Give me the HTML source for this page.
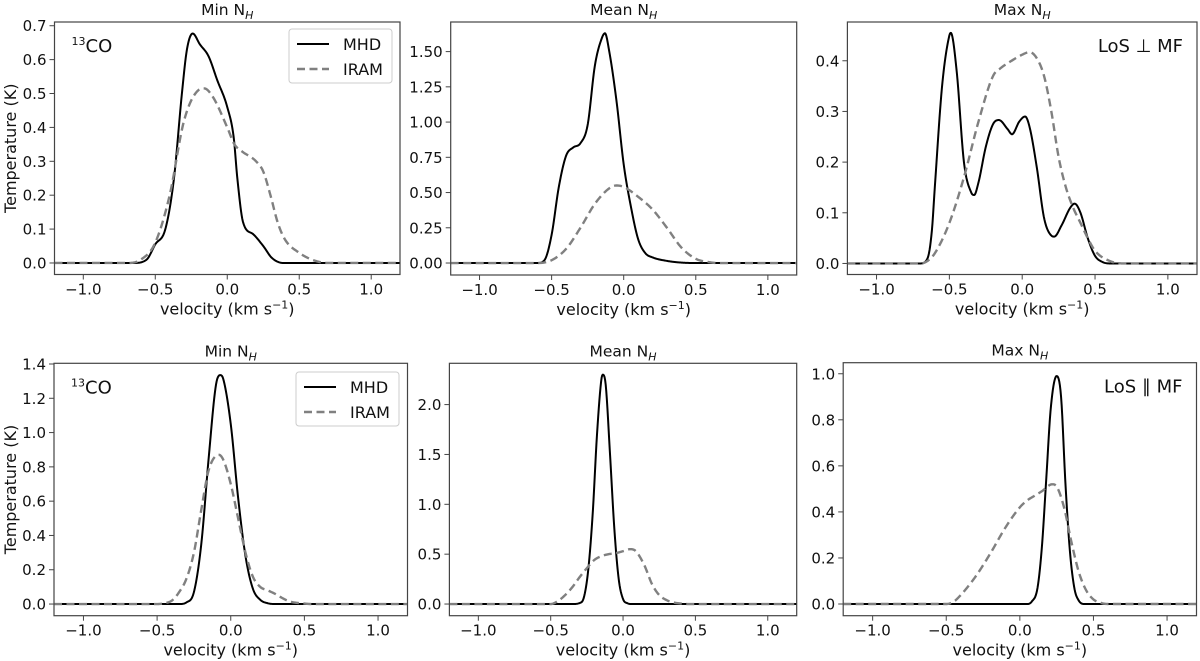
<!DOCTYPE html>
<html><head><meta charset="utf-8">
<style>
html,body{margin:0;padding:0;background:#fff;}
svg{display:block;font-family:"DejaVu Sans","Liberation Sans",sans-serif;}
</style></head>
<body>
<svg id="fig" width="1200" height="661" viewBox="0 0 1200 661" xmlns="http://www.w3.org/2000/svg"></svg>
<script>
// ---- data (velocity km/s, temperature K) ----
const xTicks = [-1.0, -0.5, 0.0, 0.5, 1.0];
const xTickLabels = ["\u22121.0", "\u22120.5", "0.0", "0.5", "1.0"];

const p1Ticks = [0, 0.1, 0.2, 0.3, 0.4, 0.5, 0.6, 0.7];
const p1TickLabels = ["0.0","0.1","0.2","0.3","0.4","0.5","0.6","0.7"];
const p1MhdV = [-1.2,-0.65,-0.56,-0.5,-0.43,-0.37,-0.315,-0.28,-0.24,-0.19,-0.13,-0.07,0,0.045,0.07,0.11,0.18,0.25,0.31,0.39,1.2];
const p1MhdT = [0,0,0.01,0.055,0.1,0.25,0.5,0.63,0.677,0.645,0.61,0.54,0.46,0.37,0.25,0.12,0.085,0.05,0.015,0,0];
const p1IramV = [-1.2,-0.7,-0.6,-0.5,-0.4,-0.3,-0.2,-0.16,-0.1,0,0.05,0.1,0.2,0.25,0.3,0.35,0.4,0.5,0.6,0.7,1.2];
const p1IramT = [0,0,0.01,0.06,0.2,0.42,0.51,0.515,0.49,0.4,0.35,0.33,0.3,0.27,0.2,0.12,0.07,0.03,0.008,0,0];

const p2Ticks = [0,0.25,0.5,0.75,1.0,1.25,1.5];
const p2TickLabels = ["0.00","0.25","0.50","0.75","1.00","1.25","1.50"];
const p2MhdV = [-1.2,-0.6,-0.55,-0.5,-0.45,-0.4,-0.35,-0.3,-0.25,-0.2,-0.15,-0.13,-0.1,-0.05,0,0.05,0.1,0.15,0.2,0.3,0.4,0.5,1.2];
const p2MhdT = [0,0,0.02,0.2,0.54,0.76,0.82,0.85,0.98,1.4,1.6,1.63,1.5,1.15,0.7,0.4,0.17,0.07,0.04,0.015,0.003,0,0];
const p2IramV = [-1.2,-0.6,-0.5,-0.4,-0.3,-0.2,-0.1,-0.05,0,0.1,0.2,0.3,0.4,0.5,0.6,0.65,1.2];
const p2IramT = [0,0,0.02,0.1,0.25,0.42,0.53,0.55,0.54,0.47,0.38,0.25,0.11,0.03,0.005,0,0];

const p3Ticks = [0,0.1,0.2,0.3,0.4];
const p3TickLabels = ["0.0","0.1","0.2","0.3","0.4"];
const p3MhdV = [-1.2,-0.7,-0.65,-0.62,-0.6,-0.55,-0.5,-0.49,-0.45,-0.4,-0.35,-0.33,-0.3,-0.25,-0.2,-0.16,-0.1,-0.07,-0.02,0.02,0.05,0.1,0.15,0.2,0.22,0.27,0.33,0.36,0.4,0.45,0.5,0.55,0.6,1.2];
const p3MhdT = [0,0,0.01,0.065,0.15,0.35,0.45,0.455,0.38,0.2,0.14,0.135,0.16,0.23,0.275,0.283,0.265,0.255,0.28,0.29,0.27,0.19,0.09,0.055,0.053,0.075,0.11,0.118,0.1,0.05,0.015,0.003,0,0];
const p3IramV = [-1.2,-0.7,-0.65,-0.6,-0.5,-0.4,-0.3,-0.2,-0.15,-0.1,0,0.05,0.1,0.15,0.2,0.25,0.3,0.35,0.4,0.45,0.5,0.6,0.7,1.2];
const p3IramT = [0,0,0.005,0.02,0.08,0.17,0.28,0.37,0.385,0.395,0.412,0.417,0.405,0.37,0.3,0.21,0.15,0.11,0.08,0.05,0.025,0.005,0,0];

const p4Ticks = [0,0.2,0.4,0.6,0.8,1.0,1.2,1.4];
const p4TickLabels = ["0.0","0.2","0.4","0.6","0.8","1.0","1.2","1.4"];
const p4MhdV = [-1.2,-0.35,-0.3,-0.25,-0.2,-0.15,-0.1,-0.07,-0.05,0,0.05,0.1,0.15,0.2,0.25,0.3,1.2];
const p4MhdT = [0,0,0.01,0.07,0.35,0.85,1.28,1.335,1.31,1.05,0.62,0.28,0.09,0.025,0.005,0,0];
const p4IramV = [-1.2,-0.5,-0.45,-0.4,-0.35,-0.3,-0.25,-0.2,-0.15,-0.08,-0.05,0,0.05,0.1,0.15,0.2,0.25,0.3,0.35,0.4,0.5,0.55,1.2];
const p4IramT = [0,0,0.005,0.02,0.07,0.15,0.3,0.55,0.78,0.87,0.84,0.7,0.5,0.3,0.16,0.1,0.08,0.06,0.035,0.015,0.003,0,0];

const p5Ticks = [0,0.5,1.0,1.5,2.0];
const p5TickLabels = ["0.0","0.5","1.0","1.5","2.0"];
const p5MhdV = [-1.2,-0.35,-0.3,-0.27,-0.24,-0.21,-0.18,-0.15,-0.14,-0.12,-0.09,-0.06,-0.03,0,0.03,0.06,1.2];
const p5MhdT = [0,0,0.01,0.07,0.35,0.9,1.7,2.25,2.3,2.2,1.5,0.75,0.25,0.05,0.008,0,0];
const p5IramV = [-1.2,-0.5,-0.45,-0.4,-0.35,-0.3,-0.25,-0.2,-0.15,-0.1,-0.05,0,0.05,0.08,0.1,0.15,0.2,0.25,0.3,0.35,0.4,0.45,1.2];
const p5IramT = [0,0,0.03,0.09,0.17,0.27,0.36,0.44,0.48,0.5,0.51,0.53,0.55,0.54,0.51,0.38,0.2,0.09,0.04,0.015,0.005,0,0];

const p6Ticks = [0,0.2,0.4,0.6,0.8,1.0];
const p6TickLabels = ["0.0","0.2","0.4","0.6","0.8","1.0"];
const p6MhdV = [-1.2,0.05,0.08,0.12,0.15,0.18,0.21,0.25,0.28,0.31,0.34,0.37,0.4,0.44,1.2];
const p6MhdT = [0,0,0.01,0.07,0.25,0.55,0.85,0.99,0.9,0.52,0.23,0.07,0.015,0,0];
const p6IramV = [-1.2,-0.5,-0.45,-0.4,-0.3,-0.2,-0.1,0,0.05,0.1,0.15,0.22,0.25,0.3,0.35,0.4,0.45,0.5,0.55,0.6,1.2];
const p6IramT = [0,0,0.01,0.04,0.12,0.22,0.33,0.42,0.45,0.47,0.49,0.52,0.51,0.42,0.27,0.14,0.06,0.02,0.005,0,0];

// ---- layout ----
const panels = [
 {name:"top-min",  title:"Min", box:[54.5,400,22,274.5], ylim:[-0.034,0.711], ticks:p1Ticks, labels:p1TickLabels, mv:p1MhdV, mt:p1MhdT, iv:p1IramV, it:p1IramT, legend:[289,29], co:true, ylabel:true},
 {name:"top-mean", title:"Mean", box:[450.7,796.7,22,275], ylim:[-0.085,1.71], ticks:p2Ticks, labels:p2TickLabels, mv:p2MhdV, mt:p2MhdT, iv:p2IramV, it:p2IramT},
 {name:"top-max",  title:"Max", box:[847.4,1197,22,274.5], ylim:[-0.0218,0.4765], ticks:p3Ticks, labels:p3TickLabels, mv:p3MhdV, mt:p3MhdT, iv:p3IramV, it:p3IramT, los:"LoS \u22A5 MF"},
 {name:"bottom-min", title:"Min", box:[54,407.5,363.3,615.7], ylim:[-0.068,1.404], ticks:p4Ticks, labels:p4TickLabels, mv:p4MhdV, mt:p4MhdT, iv:p4IramV, it:p4IramT, legend:[296,372], co:true, ylabel:true},
 {name:"bottom-mean", title:"Mean", box:[449.4,796.7,363.3,615.7], ylim:[-0.117,2.414], ticks:p5Ticks, labels:p5TickLabels, mv:p5MhdV, mt:p5MhdT, iv:p5IramV, it:p5IramT},
 {name:"bottom-max", title:"Max", box:[843.2,1196.5,362.7,615.7], ylim:[-0.0508,1.048], ticks:p6Ticks, labels:p6TickLabels, mv:p6MhdV, mt:p6MhdT, iv:p6IramV, it:p6IramT, los:"LoS \u2225 MF"}
];

const NS="http://www.w3.org/2000/svg";
const fig=document.getElementById('fig');
function mk(tag, attrs, parent){const e=document.createElementNS(NS,tag);for(const k in attrs)e.setAttribute(k,attrs[k]);(parent||fig).appendChild(e);return e;}

function monotone(xs, ys){
  const n=xs.length, d=[], m=new Array(n);
  for(let i=0;i<n-1;i++) d.push((ys[i+1]-ys[i])/(xs[i+1]-xs[i]));
  m[0]=d[0]; m[n-1]=d[n-2];
  for(let i=1;i<n-1;i++){ m[i]=(d[i-1]*d[i]<=0)?0:(d[i-1]+d[i])/2; }
  for(let i=0;i<n-1;i++){
    if(d[i]===0){m[i]=0;m[i+1]=0;continue;}
    const a=m[i]/d[i], b=m[i+1]/d[i], s=a*a+b*b;
    if(s>9){const t=3/Math.sqrt(s); m[i]=t*a*d[i]; m[i+1]=t*b*d[i];}
  }
  return function(x){
    let i=0; while(i<n-2 && x>xs[i+1]) i++;
    const h=xs[i+1]-xs[i], t=(x-xs[i])/h, t2=t*t, t3=t2*t;
    return (2*t3-3*t2+1)*ys[i]+(t3-2*t2+t)*h*m[i]+(-2*t3+3*t2)*ys[i+1]+(t3-t2)*h*m[i+1];
  };
}

panels.forEach(p=>{
  const [x0,x1,y0,y1]=p.box;
  const g=mk('g',{});
  
  
  const xs=v=>x0+(v+1.2)/2.4*(x1-x0);
  const ys=t=>y1-(t-p.ylim[0])/(p.ylim[1]-p.ylim[0])*(y1-y0);
  const clip='clip-'+p.name;
  const cp=mk('clipPath',{id:clip},g); mk('rect',{x:x0,y:y0,width:x1-x0,height:y1-y0},cp);

  function curve(vs,ts,attrs,nm){
    const f=monotone(vs,ts); let d='';
    for(let v=-1.2; v<=1.2001; v+=0.004){ d+=(d?'L':'M')+xs(v).toFixed(2)+','+ys(Math.max(0,f(v))).toFixed(2); }
    const path=mk('path',Object.assign({d:d,fill:'none','clip-path':'url(#'+clip+')'},attrs),g);
    
    
  }
  curve(p.mv,p.mt,{stroke:'#000','stroke-width':2},'mhd-line');
  curve(p.iv,p.it,{stroke:'#808080','stroke-width':2.4,'stroke-dasharray':'8,4.5'},'iram-line');

  const frame=mk('rect',{x:x0,y:y0,width:x1-x0,height:y1-y0,fill:'none',stroke:'#444','stroke-width':1.2},g);
  
  

  xTicks.forEach((v,i)=>{
    mk('line',{x1:xs(v),x2:xs(v),y1:y1,y2:y1+5,stroke:'#444','stroke-width':1},g);
    const t=mk('text',{x:xs(v),y:y1+20,'font-size':15,'text-anchor':'middle',fill:'#111'},g);
    t.textContent=xTickLabels[i];
    
    
  });
  p.ticks.forEach((v,i)=>{
    mk('line',{x1:x0-5,x2:x0,y1:ys(v),y2:ys(v),stroke:'#444','stroke-width':1},g);
    const t=mk('text',{x:x0-8,y:ys(v)+5.5,'font-size':15,'text-anchor':'end',fill:'#111'},g);
    t.textContent=p.labels[i];
    
    
  });
  const xl=mk('text',{x:(x0+x1)/2,y:y1+40,'font-size':16,'text-anchor':'middle',fill:'#111'},g);
  xl.innerHTML='velocity (km s<tspan dy="-6" font-size="11">\u22121</tspan><tspan dy="6">)</tspan>';
  
  

  const tt=mk('text',{x:(x0+x1)/2,y:y0-7,'font-size':15.5,'text-anchor':'middle',fill:'#111'},g);
  tt.innerHTML=p.title+' N<tspan dy="4" font-size="11" font-style="italic">H</tspan>';
  
  

  if(p.ylabel){
    const cy=(y0+y1)/2;
    const yl=mk('text',{x:11,y:cy,'font-size':16,'text-anchor':'middle',fill:'#111',transform:'rotate(-90 11 '+cy+')'},g);
    yl.setAttribute('dy','5');
    yl.textContent='Temperature (K)';
    
    
  }
  if(p.co){
    const co=mk('text',{x:x0+17,y:y0+30,'font-size':18,fill:'#111'},g);
    co.innerHTML='<tspan font-size="11" dy="-7">13</tspan><tspan dy="7">CO</tspan>';
    
    
  }
  if(p.los){
    const ls=mk('text',{x:x1-14,y:y0+30,'font-size':18,'text-anchor':'end',fill:'#111'},g);
    ls.textContent=p.los;
    
    
  }
  if(p.legend){
    const [lx,ly]=p.legend;
    const lg=mk('g',{},g);
    
    
    mk('rect',{x:lx,y:ly,width:103,height:54,rx:3,fill:'#fff',stroke:'#ccc','stroke-width':1},lg);
    mk('line',{x1:lx+8,x2:lx+40,y1:ly+15,y2:ly+15,stroke:'#000','stroke-width':2},lg);
    mk('line',{x1:lx+8,x2:lx+40,y1:ly+40,y2:ly+40,stroke:'#808080','stroke-width':2.4,'stroke-dasharray':'8,4.5'},lg);
    const a=mk('text',{x:lx+54,y:ly+21,'font-size':16,fill:'#111'},lg); a.textContent='MHD';
    
    
    const b=mk('text',{x:lx+54,y:ly+46,'font-size':16,fill:'#111'},lg); b.textContent='IRAM';
    
    
  }
});
</script>
</body></html>
